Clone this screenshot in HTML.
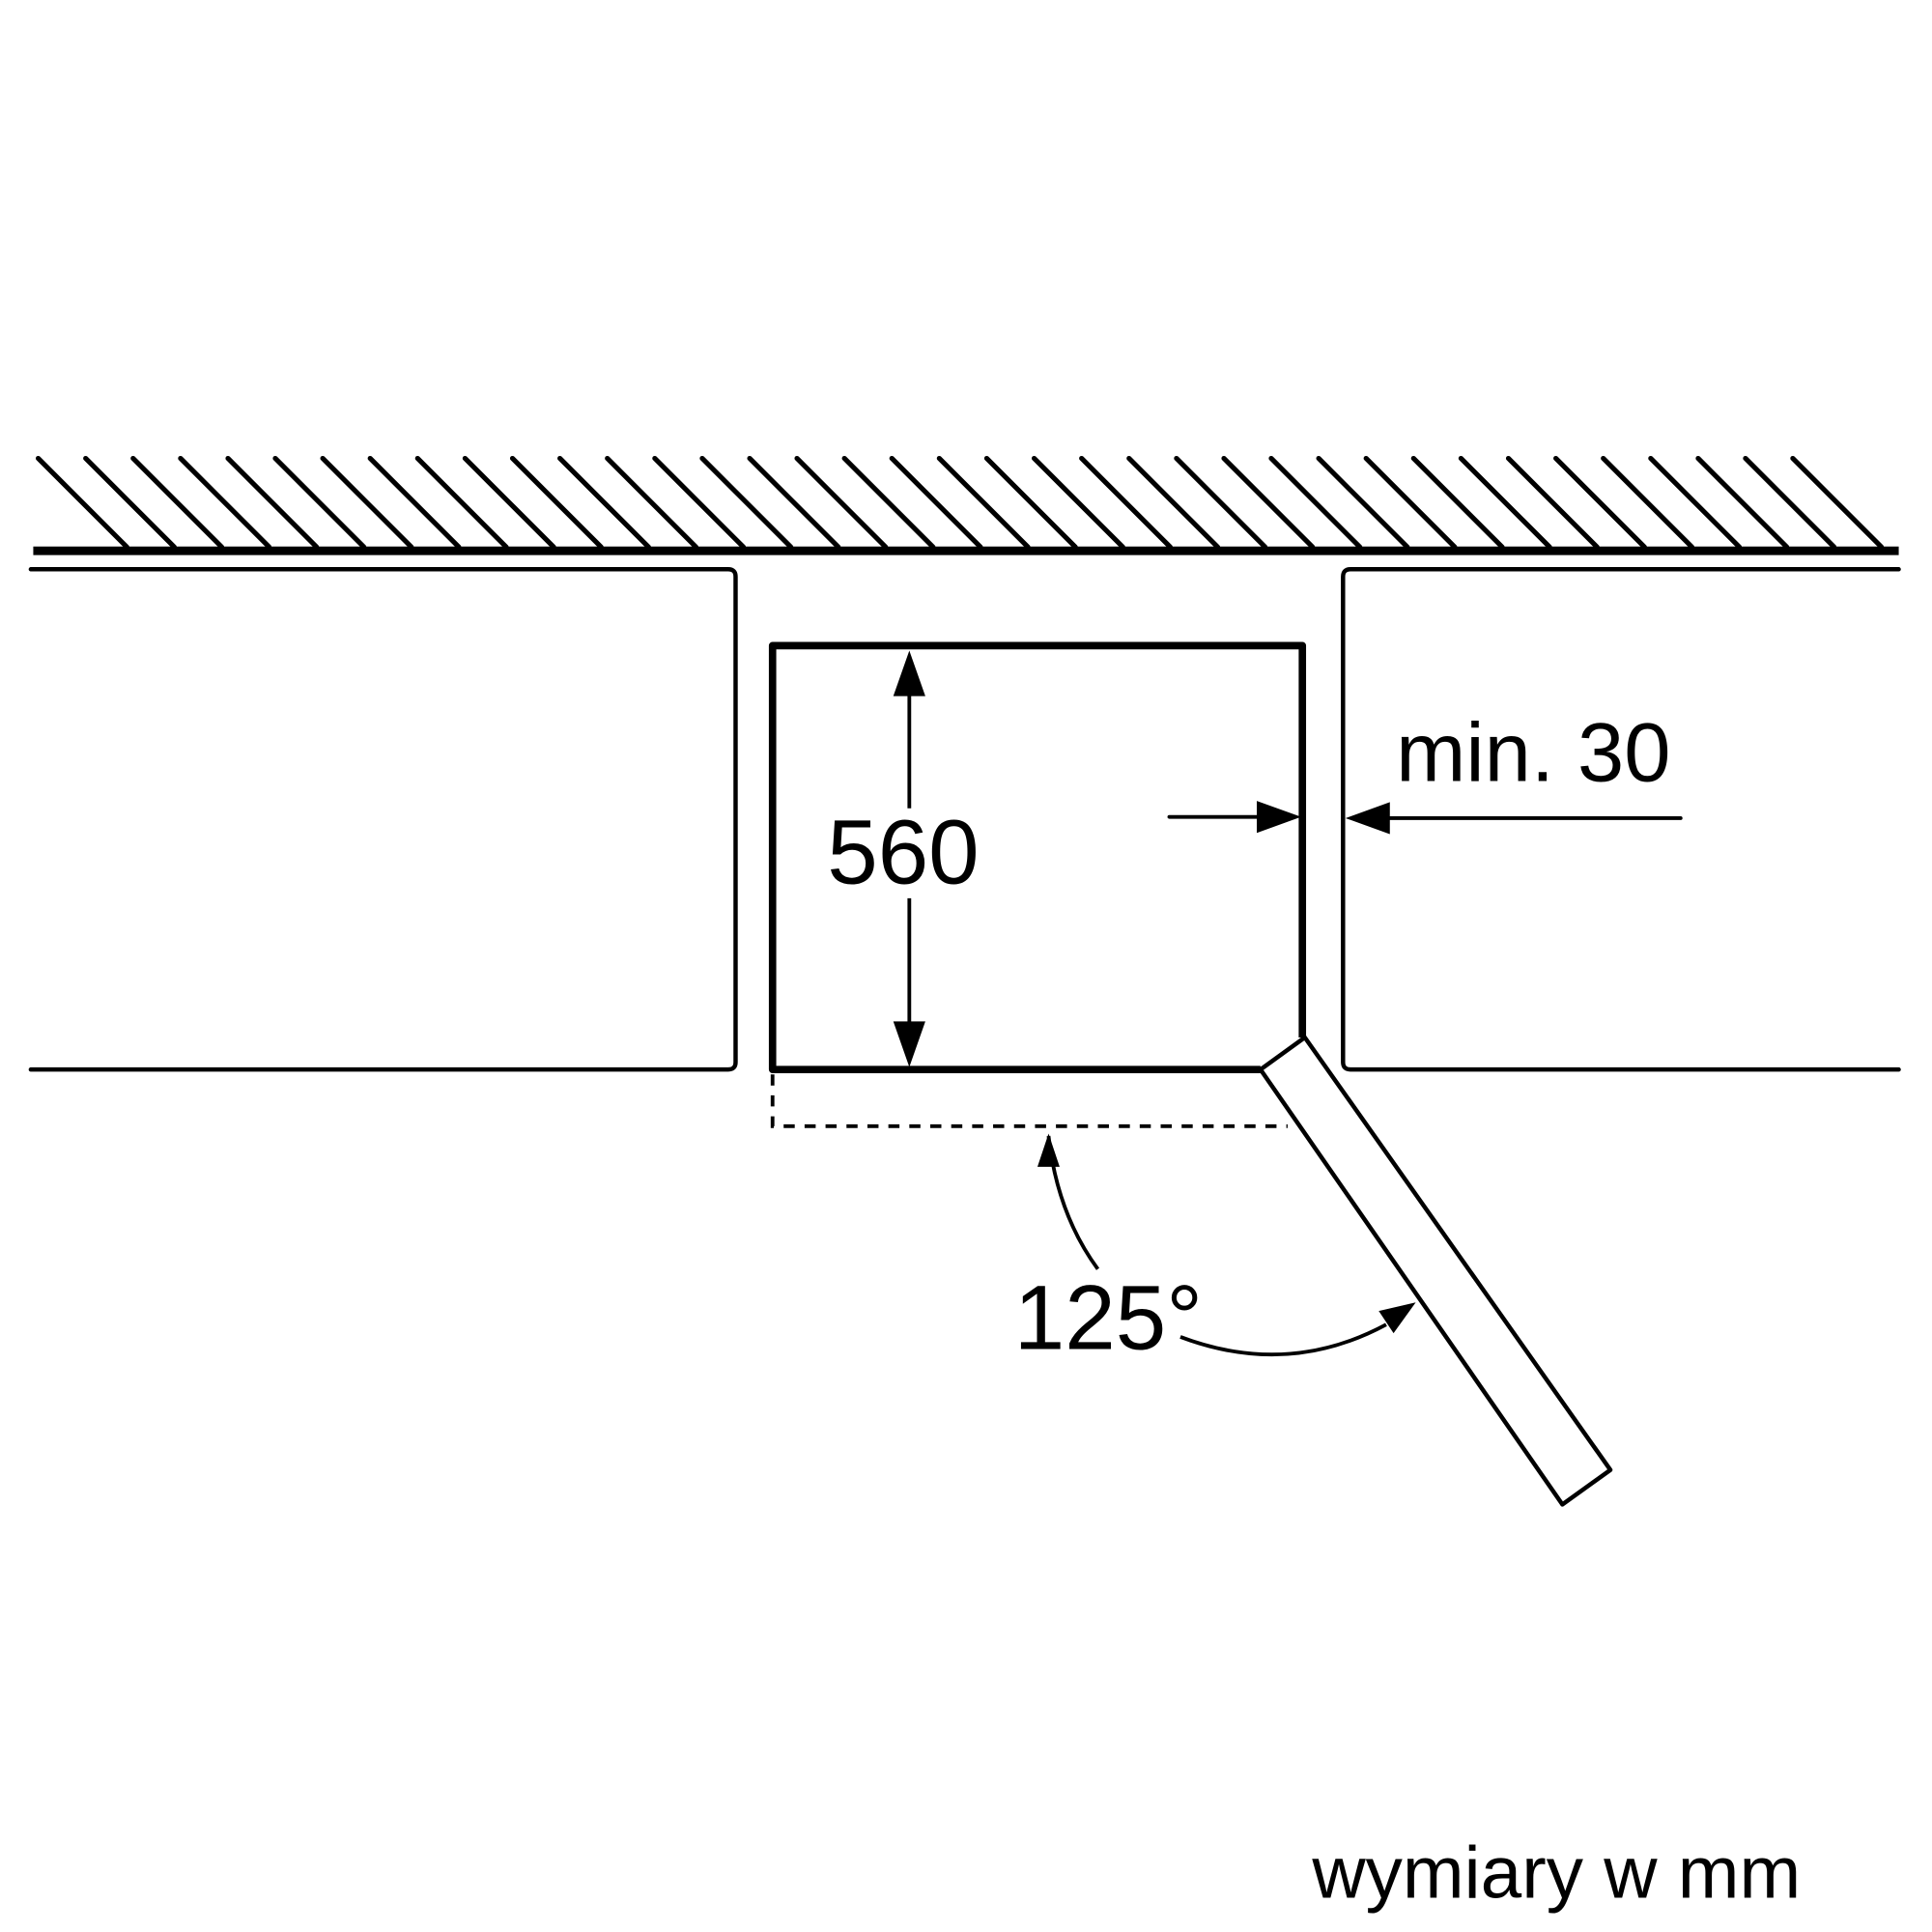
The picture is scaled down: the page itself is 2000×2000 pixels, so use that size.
<!DOCTYPE html>
<html><head><meta charset="utf-8"><style>
html,body{margin:0;padding:0;background:#fff;}
svg{display:block;}
text{font-family:"Liberation Sans",Arial,sans-serif;fill:#000;}
</style></head><body>
<svg width="2000" height="2000" viewBox="0 0 1568 1568" xmlns="http://www.w3.org/2000/svg">
<g stroke="#000" stroke-width="4" stroke-linecap="round" fill="none">
<line x1="31" y1="372" x2="103" y2="444"/>
<line x1="69.5" y1="372" x2="141.5" y2="444"/>
<line x1="108" y1="372" x2="180" y2="444"/>
<line x1="146.5" y1="372" x2="218.5" y2="444"/>
<line x1="185" y1="372" x2="257" y2="444"/>
<line x1="223.4" y1="372" x2="295.4" y2="444"/>
<line x1="261.9" y1="372" x2="333.9" y2="444"/>
<line x1="300.4" y1="372" x2="372.4" y2="444"/>
<line x1="338.9" y1="372" x2="410.9" y2="444"/>
<line x1="377.4" y1="372" x2="449.4" y2="444"/>
<line x1="415.9" y1="372" x2="487.9" y2="444"/>
<line x1="454.4" y1="372" x2="526.4" y2="444"/>
<line x1="492.9" y1="372" x2="564.9" y2="444"/>
<line x1="531.4" y1="372" x2="603.4" y2="444"/>
<line x1="569.9" y1="372" x2="641.9" y2="444"/>
<line x1="608.4" y1="372" x2="680.4" y2="444"/>
<line x1="646.8" y1="372" x2="718.8" y2="444"/>
<line x1="685.3" y1="372" x2="757.3" y2="444"/>
<line x1="723.8" y1="372" x2="795.8" y2="444"/>
<line x1="762.3" y1="372" x2="834.3" y2="444"/>
<line x1="800.8" y1="372" x2="872.8" y2="444"/>
<line x1="839.3" y1="372" x2="911.3" y2="444"/>
<line x1="877.8" y1="372" x2="949.8" y2="444"/>
<line x1="916.3" y1="372" x2="988.3" y2="444"/>
<line x1="954.8" y1="372" x2="1026.8" y2="444"/>
<line x1="993.3" y1="372" x2="1065.3" y2="444"/>
<line x1="1031.7" y1="372" x2="1103.7" y2="444"/>
<line x1="1070.2" y1="372" x2="1142.2" y2="444"/>
<line x1="1108.7" y1="372" x2="1180.7" y2="444"/>
<line x1="1147.2" y1="372" x2="1219.2" y2="444"/>
<line x1="1185.7" y1="372" x2="1257.7" y2="444"/>
<line x1="1224.2" y1="372" x2="1296.2" y2="444"/>
<line x1="1262.7" y1="372" x2="1334.7" y2="444"/>
<line x1="1301.2" y1="372" x2="1373.2" y2="444"/>
<line x1="1339.7" y1="372" x2="1411.7" y2="444"/>
<line x1="1378.2" y1="372" x2="1450.2" y2="444"/>
<line x1="1416.6" y1="372" x2="1488.6" y2="444"/>
<line x1="1455" y1="372" x2="1527" y2="444"/>
</g>
<line x1="27" y1="447" x2="1541" y2="447" stroke="#000" stroke-width="7"/>
<g stroke="#000" stroke-width="3.5" fill="none" stroke-linecap="round" stroke-linejoin="round">
<path d="M25 462 H591 Q597 462 597 468 V862 Q597 868 591 868 H25"/>
<path d="M1541 462 H1096 Q1090 462 1090 468 V862 Q1090 868 1096 868 H1541"/>
<path d="M1023 868 L1059 842 L1307 1193 L1268 1221 Z"/>
</g>
<g stroke="#000" stroke-width="6" fill="none" stroke-linejoin="round">
<path d="M1023 868 H627 V524 H1057 V842"/>
</g>
<path d="M627 872 V914 H1045" stroke="#000" stroke-width="3" fill="none" stroke-dasharray="9 8"/>
<g stroke="#000" stroke-width="3" fill="none">
<line x1="738" y1="560" x2="738" y2="656"/>
<line x1="738" y1="729" x2="738" y2="830"/>
<line x1="949" y1="663" x2="1022" y2="663" stroke-linecap="round"/>
<line x1="1126" y1="664" x2="1364" y2="664" stroke-linecap="round"/>
<path d="M851 922 Q858 985 891 1030"/>
<path d="M958 1085 Q1045 1118 1125 1075"/>
</g>
<g fill="#000">
<polygon points="738,528 725,565 751,565"/>
<polygon points="738,866 725,829 751,829"/>
<polygon points="1056,663 1020,650 1020,676"/>
<polygon points="1092,664 1128,651 1128,677"/>
<polygon points="851,920 842,947 860,947"/>
<polygon points="1149,1057 1119,1064 1131,1082"/>
</g>
<text x="733" y="717" font-size="74" text-anchor="middle">560</text>
<text x="1133" y="634" font-size="68">min. 30</text>
<text x="823" y="1095" font-size="74">125°</text>
<text x="1065" y="1540" font-size="60">wymiary w mm</text>
</svg>
</body></html>
